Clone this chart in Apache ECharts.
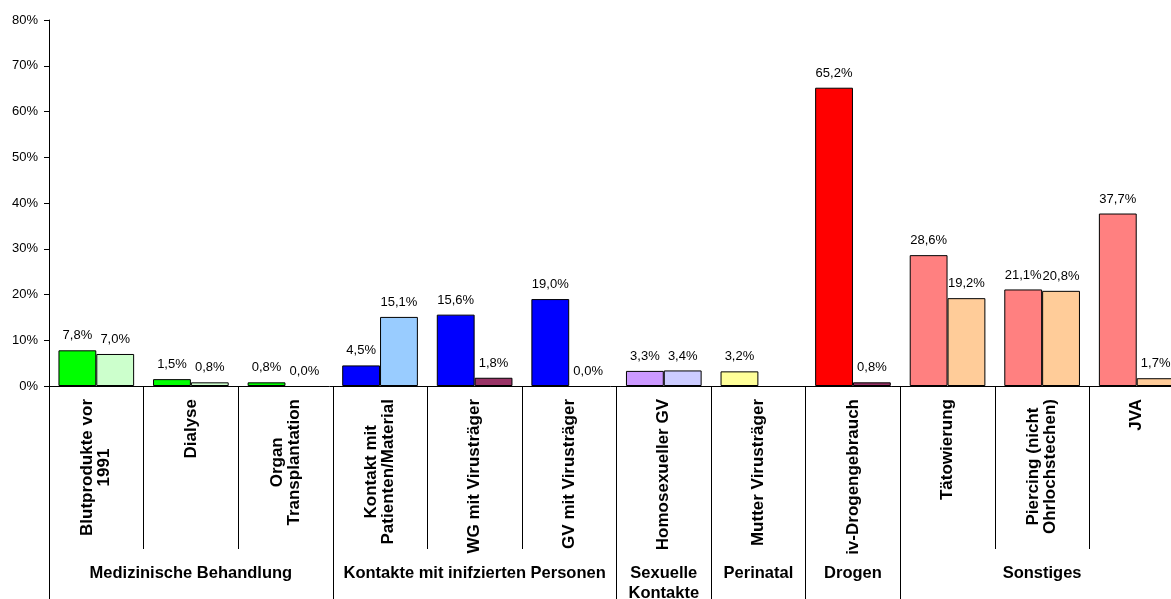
<!DOCTYPE html>
<html>
<head>
<meta charset="utf-8">
<script src="https://cdn.jsdelivr.net/npm/echarts@6/dist/echarts.min.js"></script>
<style>
  html, body { margin: 0; padding: 0; background: #fff; }
  #chart { width: 1171px; height: 599px; }
</style>
</head>
<body>
<div id="chart"></div>
<script>
// categories (second axis level) and their groups (first level)
const categories = [
  'Blutprodukte vor\n1991', 'Dialyse', 'Organ\nTransplantation',
  'Kontakt mit\nPatienten/Material', 'WG mit Virusträger', 'GV mit Virusträger',
  'Homosexueller GV', 'Mutter Virusträger', 'iv-Drogengebrauch',
  'Tätowierung', 'Piercing (nicht\nOhrlochstechen)', 'JVA'
];
const groupNames = [
  'Medizinische Behandlung', 'Kontakte mit inifzierten Personen',
  'Sexuelle\nKontakte', 'Perinatal', 'Drogen', 'Sonstiges'
];
const groupSizes = [3, 3, 1, 1, 1, 3];

// values in percent
const valuesA = [7.8, 1.5, 0.8, 4.5, 15.6, 19.0, 3.3, 3.2, 65.2, 28.6, 21.1, 37.7];
const valuesB = [7.0, 0.8, 0.0, 15.1, 1.8, 0.0, 3.4, null, 0.8, 19.2, 20.8, 1.7];

const yTicks = [0, 10, 20, 30, 40, 50, 60, 70, 80];

// bar colours per category
const colorsA = ['#00FF00', '#00FF00', '#00FF00', '#0000FF', '#0000FF', '#0000FF',
  '#CC99FF', '#FFFF99', '#FF0000', '#FF8080', '#FF8080', '#FF8080'];
const colorsB = ['#CCFFCC', '#CCFFCC', '#CCFFCC', '#99CCFF', '#993366', '#993366',
  '#CCCCFF', '#FFFF99', '#993366', '#FFCC99', '#FFCC99', '#FFCC99'];

const FONT = '"Liberation Sans", Arial, sans-serif';
const fmt = v => v.toFixed(1).replace('.', ',') + '%';

// group start indices and middle index for the group label
const groupStart = [];
const groupLabelAt = {};
let pos = 0;
groupSizes.forEach((n, g) => {
  groupStart.push(pos);
  groupLabelAt[pos + Math.floor(n / 2)] = groupNames[g];
  pos += n;
});

function barData(values, colors) {
  return values.map((v, i) => ({
    value: v,
    itemStyle: { color: colors[i], borderWidth: v === 0 ? 0 : 1 }
  }));
}

const barLabel = {
  show: true,
  position: 'top',
  distance: 8,
  fontFamily: FONT,
  fontSize: 13,
  color: '#000',
  formatter: p => (p.value == null ? '' : fmt(p.value))
};

const chart = echarts.init(document.getElementById('chart'), null, { renderer: 'canvas' });

chart.setOption({
  backgroundColor: '#fff',
  animation: false,
  grid: { left: 49, top: 20, width: 1135, bottom: 213, containLabel: false, outerBoundsMode: 'none' },
  xAxis: [
    {
      type: 'category',
      data: categories,
      axisLine: { lineStyle: { color: '#000', width: 1 } },
      axisTick: { show: true, interval: 0, length: 163, lineStyle: { color: '#000', width: 1 } },
      axisLabel: {
        interval: 0,
        rotate: 90,
        margin: 13,
        formatter: v => v.split('\n').map(s => '{c|' + s + '}').join('\n'),
        rich: {
          c: { align: 'center', fontFamily: FONT, fontSize: 17, fontWeight: 'bold', color: '#000', lineHeight: 17 }
        }
      }
    },
    {
      type: 'category',
      data: categories,
      position: 'bottom',
      axisLine: { show: false },
      axisTick: {
        show: true,
        interval: idx => groupStart.indexOf(idx) >= 0,
        length: 230,
        lineStyle: { color: '#000', width: 1 }
      },
      axisLabel: {
        interval: 0,
        margin: 177,
        fontFamily: FONT,
        fontSize: 16.5,
        fontWeight: 'bold',
        color: '#000',
        lineHeight: 20,
        formatter: (v, i) => groupLabelAt[i] || ''
      }
    }
  ],
  yAxis: {
    type: 'value',
    min: yTicks[0],
    max: yTicks[yTicks.length - 1],
    interval: 10,
    splitLine: { show: false },
    axisLine: { show: true, lineStyle: { color: '#000', width: 1 } },
    axisTick: { show: true, length: 5, lineStyle: { color: '#000' } },
    axisLabel: {
      margin: 11,
      fontFamily: FONT,
      fontSize: 13,
      color: '#000',
      formatter: v => v + '%'
    }
  },
  series: [
    {
      type: 'bar',
      data: barData(valuesA, colorsA),
      barGap: '0%',
      barCategoryGap: '20%',
      itemStyle: { borderColor: '#000' },
      label: barLabel
    },
    {
      type: 'bar',
      data: barData(valuesB, colorsB),
      barGap: '0%',
      barCategoryGap: '20%',
      itemStyle: { borderColor: '#000' },
      label: barLabel
    }
  ]
});
</script>
</body>
</html>
